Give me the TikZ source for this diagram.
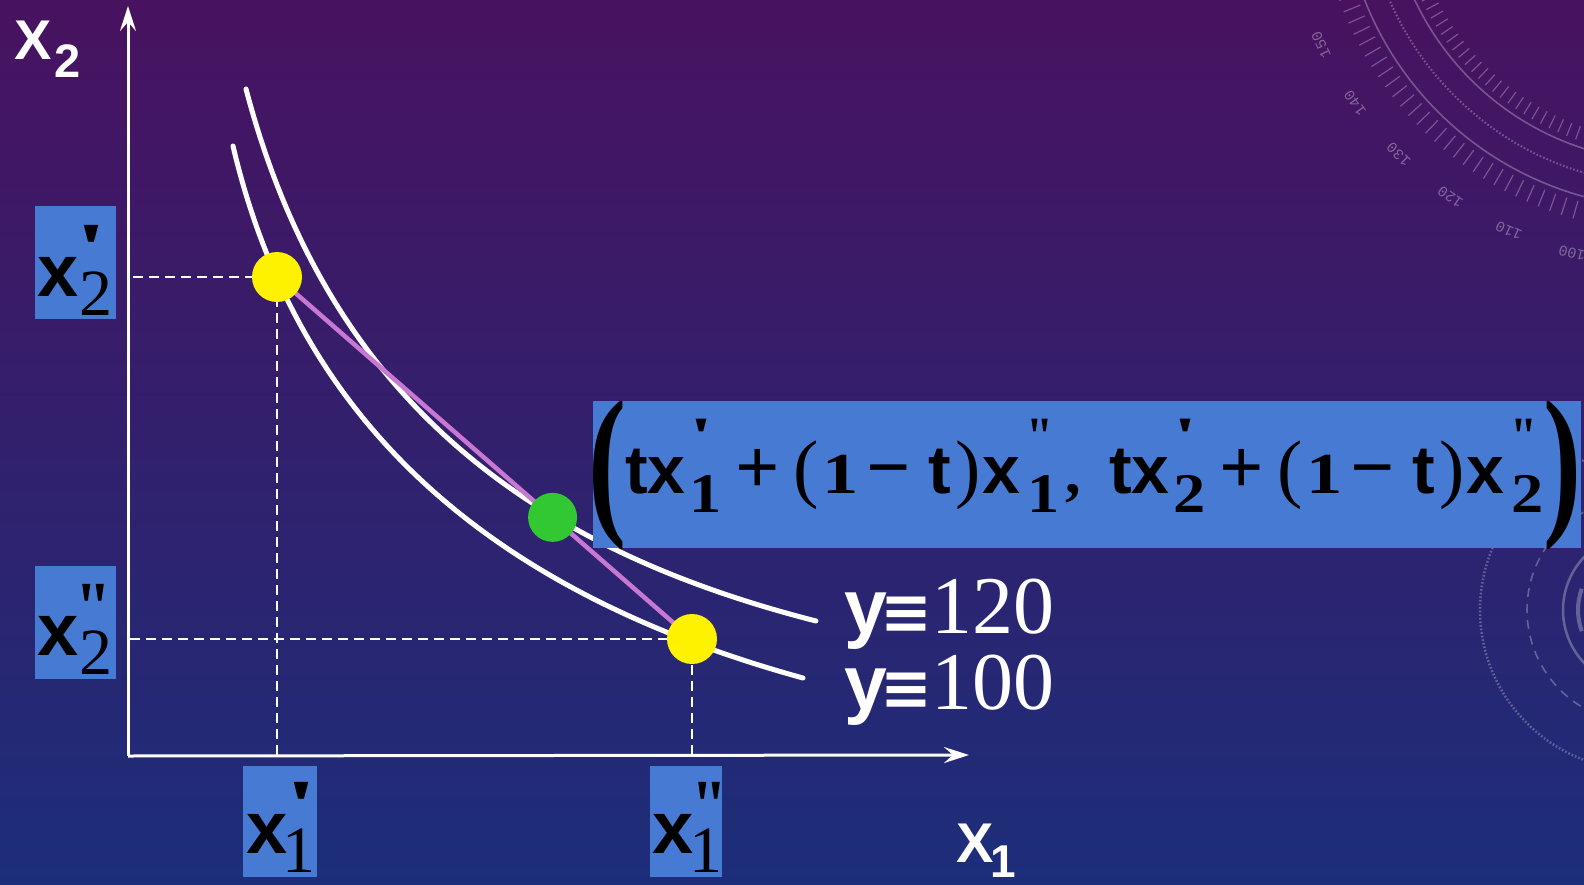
\documentclass[tikz,border=0pt]{standalone}
\usepackage{fontspec}
\setmainfont{Liberation Serif}
\setsansfont{Liberation Sans}
\setmonofont{Liberation Mono}
\newfontfamily\dejavu{DejaVu Sans}
\newfontfamily\primefont{Liberation Serif}[Ligatures=TeXOff]
\usetikzlibrary{arrows.meta,calc}

\definecolor{bgtop}{RGB}{72,18,96}
\definecolor{bgmid}{RGB}{44,28,104}
\definecolor{bgbot}{RGB}{28,46,122}
\definecolor{boxblue}{RGB}{71,122,210}
\definecolor{chordcol}{RGB}{200,120,210}
\definecolor{dotgreen}{RGB}{50,200,50}

\newcommand\putat[2]{\rlap{\hspace*{#1}#2}}
\newcommand\fsz[1]{\fontsize{#1}{#1}\selectfont}
% #1 horizontal scale, #2 size, #3 mark
\newcommand\prm[3]{\scalebox{#1}[1]{\primefont\bfseries\fsz{#2}#3}}
\newcommand\pone[1]{\prm{1.6}{#1}{'}}
\newcommand\ptwo[1]{\prm{0.9}{#1}{"}}

\newcommand\boxlab[3]{%
\putat{0pt}{\sffamily\bfseries\fsz{74}x}%
\putat{39pt}{\raisebox{24pt}{#1{72}}}%
\putat{#3}{\raisebox{-19pt}{\fsz{66}#2}}%
\hspace*{80pt}}

\newcommand\fgroup[3]{%
\putat{0pt}{\sffamily\bfseries\fsz{68}tx}%
\putat{64pt}{\raisebox{39pt}{#1{54}}}%
\putat{64pt}{\raisebox{-19pt}{\scalebox{1.15}[1]{\bfseries\fsz{56}#3}}}%
\putat{110pt}{\bfseries\fsz{78}+}%
\putat{168pt}{\fsz{76}(}%
\putat{197pt}{\scalebox{1.25}[1]{\bfseries\fsz{58}1}}%
\putat{241pt}{\bfseries\fsz{78}−}%
\putat{303pt}{\sffamily\bfseries\fsz{68}t}%
\putat{330pt}{\fsz{76})}%
\putat{357pt}{\sffamily\bfseries\fsz{68}x}%
\putat{401pt}{\raisebox{39pt}{#2{54}}}%
\putat{402pt}{\raisebox{-19pt}{\scalebox{1.15}[1]{\bfseries\fsz{56}#3}}}}

\newcommand\ylab[1]{%
\putat{0pt}{\sffamily\bfseries\fsz{77}y}%
\putat{36pt}{\dejavu\bfseries\fsz{62}≡}%
\putat{87pt}{\fsz{82}#1}%
\hspace*{215pt}}

\begin{document}
\begin{tikzpicture}[x=1pt,y=-1pt,
  axis/.style={white, line width=3pt, -{Stealth[length=25pt,width=16pt,inset=9pt]}},
  guide/.style={white, line width=2.5pt, dash pattern=on 10pt off 6pt},
  curve/.style={white, line width=5pt, line cap=round},
  chordline/.style={chordcol, line width=4.5pt},
  dotY/.style={circle, fill=yellow, minimum size=50pt, inner sep=0pt},
  dotG/.style={circle, fill=dotgreen, minimum size=49pt, inner sep=0pt},
  lbl/.style={anchor=base west, inner sep=0pt, outer sep=0pt},
  deco/.style={white, opacity=0.28, line width=1.6pt},
  decotext/.style={white, opacity=0.35, font=\ttfamily\fsz{15}, inner sep=0pt}
]
\useasboundingbox (0,0) rectangle (1584,885);
\shade[top color=bgtop, middle color=bgmid, bottom color=bgbot] (0,0) rectangle (1584,885);

% background dial decorations
\begin{scope}
\clip (0,0) rectangle (1584,885);
\coordinate (dc) at (1670,-120);
\draw[deco] (dc) circle[radius=328];
\draw[deco] (dc) circle[radius=282];
\draw[deco, dotted, line width=2pt] (dc) circle[radius=305];
\foreach \a in {70,72,...,180} {\draw[deco, line width=1.2pt] ($(dc)+(\a:334)$) -- ($(dc)+(\a:352)$);}
\foreach \a in {70,72,...,180} {\draw[deco, line width=1.2pt] ($(dc)+(\a:262)$) -- ($(dc)+(\a:276)$);}
\foreach \n in {100,110,...,150} {\node[decotext, rotate={-\n-94.7}] (dl\n) at ($(dc)+({\n+4.7}:386)$) {\n};}
\coordinate (dd) at (1640,610);
\draw[deco, dash pattern=on 9pt off 7pt] (dd) circle[radius=113];
\draw[deco, line width=2.5pt] (dd) circle[radius=77];
\draw[deco, line width=4pt] ($(dd)+(160:62)$) arc[start angle=160, end angle=200, radius=62];
\draw[deco, dotted, line width=2.5pt] (dd) circle[radius=160];
\end{scope}

% axes
\coordinate (O) at (128,756);
\coordinate (ytop) at (128,6);
\coordinate (xend) at (969,755);
\draw[axis] (O) -- (ytop);
\draw[axis] (O) -- (xend);

% key points
\coordinate (P1) at (277,277);
\coordinate (P2) at (692,639);
\coordinate (A2p) at (133,277);
\coordinate (A2pp) at (130,639);
\coordinate (A1p) at (277,755);
\coordinate (A1pp) at (692,755);

\draw[guide] (A2p) -- (P1);
\draw[guide] (A1p) -- (P1);
\draw[guide] (A2pp) -- (P2);
\draw[guide] (A1pp) -- (P2);

% indifference curves (y=120 outer, y=100 inner)
\coordinate (c120s) at (246,89);
\coordinate (c120e) at (816,621);
\coordinate (c100s) at (233,146);
\coordinate (c100e) at (803,678);
\draw[curve] (c120s) .. controls (328,400) and (530,548) .. (c120e);
\draw[curve] (c100s) .. controls (299,427) and (494,593) .. (c100e);

% chord
\draw[chordline] (P1) -- (P2);

\node[dotY] (p1) at (P1) {};
\node[dotY] (p2) at (P2) {};
\node[dotG] (g) at ($(P1)!0.664!(P2)$) {};

% label boxes
\fill[boxblue] (35,206) rectangle (116,319);
\fill[boxblue] (35,566) rectangle (116,679);
\fill[boxblue] (243,766) rectangle (317,877);
\fill[boxblue] (650,766) rectangle (722,877);
\node[lbl] (l2p) at (37,296) {\boxlab{\pone}{2}{43pt}};
\node[lbl] (l2pp) at (37,655) {\boxlab{\ptwo}{2}{43pt}};
\node[lbl] (l1p) at (246,853) {\boxlab{\pone}{1}{36pt}};
\node[lbl] (l1pp) at (652,853) {\boxlab{\ptwo}{1}{37pt}};

% formula box
\fill[boxblue] (593,401) rectangle (1581,548);
\begin{scope}
\clip (593,401) rectangle (1581,548);
\node[inner sep=0pt] (lpar) at (608,475) {\resizebox{38pt}{116pt}{\bfseries (}};
\node[inner sep=0pt] (rpar) at (1562,475) {\resizebox{38pt}{116pt}{\bfseries )}};
\end{scope}
\node[lbl] (formula) at (625,493) {\fgroup{\pone}{\ptwo}{1}\putat{440pt}{\bfseries\fsz{62},}\putat{484pt}{\fgroup{\pone}{\ptwo}{2}}\hspace*{930pt}};

% curve labels
\node[lbl, white] (y120) at (844,633) {\ylab{120}};
\node[lbl, white] (y100) at (844,709) {\ylab{100}};

% axis labels
\node[lbl, white] (x2lab) at (14,60) {\putat{0pt}{\sffamily\bfseries\fsz{56}X}\putat{40pt}{\raisebox{-18pt}{\sffamily\bfseries\fsz{47}2}}\hspace*{70pt}};
\node[lbl, white] (x1lab) at (956,862) {\putat{0pt}{\sffamily\bfseries\fsz{56}X}\putat{34pt}{\raisebox{-15pt}{\sffamily\bfseries\fsz{46}1}}\hspace*{70pt}};
\end{tikzpicture}
\end{document}
